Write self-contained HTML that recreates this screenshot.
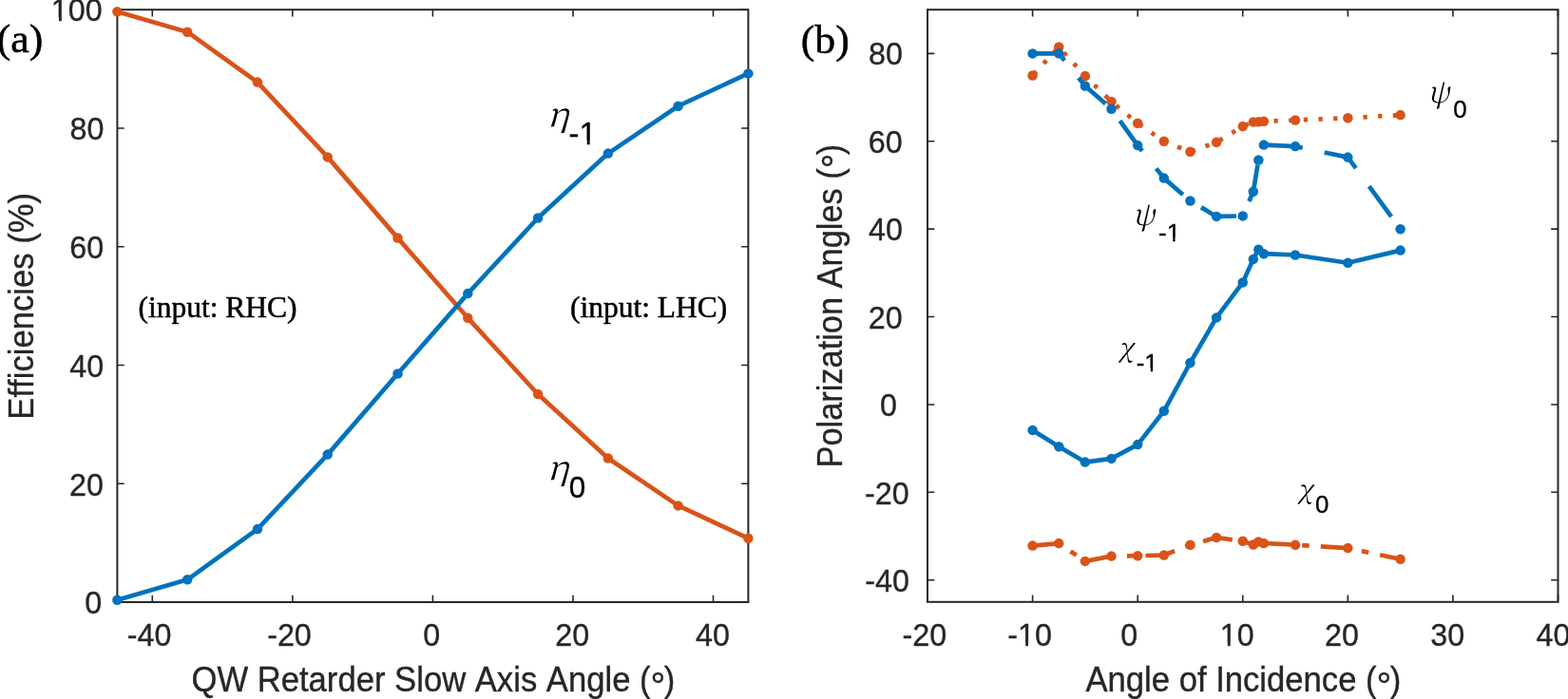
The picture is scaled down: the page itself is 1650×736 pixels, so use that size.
<!DOCTYPE html><html><head><meta charset="utf-8"><title>Figure</title><style>html,body{margin:0;padding:0;background:#fff;overflow:hidden}svg{display:block}text{font-kerning:none}</style></head><body>
<svg width="1650" height="736" viewBox="0 0 1650 736">
<rect width="1650" height="736" fill="#fff"/>
<g stroke="#262626" fill="none">
<rect x="123.4" y="10.2" width="664.00" height="623.80" stroke-width="2"/>
<path d="M160.29 634.0V626.70M160.29 10.2V17.50M307.84 634.0V626.70M307.84 10.2V17.50M455.40 634.0V626.70M455.40 10.2V17.50M602.96 634.0V626.70M602.96 10.2V17.50M750.51 634.0V626.70M750.51 10.2V17.50M123.4 634.00H130.70M787.4 634.00H780.10M123.4 509.24H130.70M787.4 509.24H780.10M123.4 384.48H130.70M787.4 384.48H780.10M123.4 259.72H130.70M787.4 259.72H780.10M123.4 134.96H130.70M787.4 134.96H780.10M123.4 10.20H130.70M787.4 10.20H780.10" stroke-width="1.6"/>
</g>
<clipPath id="f1c1" clipPathUnits="userSpaceOnUse"><path d="M0 0H1650V736H0ZM53.43 18.41H61.98V24.02H53.43ZM64.83 18.41H71.57V24.02H64.83Z" clip-rule="evenodd"/></clipPath>
<text x="53.86" y="22.02" font-family="'Liberation Sans', Arial, Helvetica, sans-serif" font-size="32.3" stroke="#262626" stroke-width="0.35" clip-path="url(#f1c1)" fill="#262626">100</text>
<text x="73.47" y="147.12" font-family="'Liberation Sans', Arial, Helvetica, sans-serif" font-size="32.3" stroke="#262626" stroke-width="0.35" fill="#262626">80</text>
<text x="73.25" y="271.82" font-family="'Liberation Sans', Arial, Helvetica, sans-serif" font-size="32.3" stroke="#262626" stroke-width="0.35" fill="#262626">60</text>
<text x="73.25" y="396.52" font-family="'Liberation Sans', Arial, Helvetica, sans-serif" font-size="32.3" stroke="#262626" stroke-width="0.35" fill="#262626">40</text>
<text x="73.00" y="521.52" font-family="'Liberation Sans', Arial, Helvetica, sans-serif" font-size="32.3" stroke="#262626" stroke-width="0.35" fill="#262626">20</text>
<text x="89.17" y="646.32" font-family="'Liberation Sans', Arial, Helvetica, sans-serif" font-size="32.3" stroke="#262626" stroke-width="0.35" fill="#262626">0</text>
<text x="133.77" y="680.02" font-family="'Liberation Sans', Arial, Helvetica, sans-serif" font-size="32.3" stroke="#262626" stroke-width="0.35" fill="#262626">-40</text>
<text x="281.17" y="680.02" font-family="'Liberation Sans', Arial, Helvetica, sans-serif" font-size="32.3" stroke="#262626" stroke-width="0.35" fill="#262626">-20</text>
<text x="445.22" y="680.02" font-family="'Liberation Sans', Arial, Helvetica, sans-serif" font-size="32.3" stroke="#262626" stroke-width="0.35" fill="#262626">0</text>
<text x="584.25" y="680.02" font-family="'Liberation Sans', Arial, Helvetica, sans-serif" font-size="32.3" stroke="#262626" stroke-width="0.35" fill="#262626">20</text>
<text x="732.10" y="680.02" font-family="'Liberation Sans', Arial, Helvetica, sans-serif" font-size="32.3" stroke="#262626" stroke-width="0.35" fill="#262626">40</text>
<path d="M123.40 12.20 L197.18 33.70 L270.96 86.60 L344.73 165.40 L418.51 250.60 L492.29 334.80 L566.07 415.00 L639.84 482.50 L713.62 532.40 L787.40 566.80" fill="none" stroke="#D95319" stroke-width="4.7" stroke-linejoin="round" stroke-linecap="butt"/>
<g fill="#D95319"><circle cx="123.40" cy="12.20" r="5.25"/><circle cx="197.18" cy="33.70" r="5.25"/><circle cx="270.96" cy="86.60" r="5.25"/><circle cx="344.73" cy="165.40" r="5.25"/><circle cx="418.51" cy="250.60" r="5.25"/><circle cx="492.29" cy="334.80" r="5.25"/><circle cx="566.07" cy="415.00" r="5.25"/><circle cx="639.84" cy="482.50" r="5.25"/><circle cx="713.62" cy="532.40" r="5.25"/><circle cx="787.40" cy="566.80" r="5.25"/></g>
<path d="M123.40 631.70 L197.18 610.30 L270.96 557.10 L344.73 478.60 L418.51 393.50 L492.29 309.10 L566.07 229.50 L639.84 161.60 L713.62 111.70 L787.40 77.40" fill="none" stroke="#0072BD" stroke-width="4.7" stroke-linejoin="round" stroke-linecap="butt"/>
<g fill="#0072BD"><circle cx="123.40" cy="631.70" r="5.25"/><circle cx="197.18" cy="610.30" r="5.25"/><circle cx="270.96" cy="557.10" r="5.25"/><circle cx="344.73" cy="478.60" r="5.25"/><circle cx="418.51" cy="393.50" r="5.25"/><circle cx="492.29" cy="309.10" r="5.25"/><circle cx="566.07" cy="229.50" r="5.25"/><circle cx="639.84" cy="161.60" r="5.25"/><circle cx="713.62" cy="111.70" r="5.25"/><circle cx="787.40" cy="77.40" r="5.25"/></g>
<g stroke="#262626" fill="none">
<rect x="976.0" y="10.2" width="663.50" height="623.60" stroke-width="2"/>
<path d="M976.00 633.8V626.50M976.00 10.2V17.50M1086.58 633.8V626.50M1086.58 10.2V17.50M1197.17 633.8V626.50M1197.17 10.2V17.50M1307.75 633.8V626.50M1307.75 10.2V17.50M1418.33 633.8V626.50M1418.33 10.2V17.50M1528.92 633.8V626.50M1528.92 10.2V17.50M1639.50 633.8V626.50M1639.50 10.2V17.50M976.0 610.70H983.30M1639.5 610.70H1632.20M976.0 518.32H983.30M1639.5 518.32H1632.20M976.0 425.93H983.30M1639.5 425.93H1632.20M976.0 333.55H983.30M1639.5 333.55H1632.20M976.0 241.16H983.30M1639.5 241.16H1632.20M976.0 148.78H983.30M1639.5 148.78H1632.20M976.0 56.39H983.30M1639.5 56.39H1632.20" stroke-width="1.6"/>
</g>
<text x="914.12" y="68.42" font-family="'Liberation Sans', Arial, Helvetica, sans-serif" font-size="32.3" stroke="#262626" stroke-width="0.35" fill="#262626">80</text>
<text x="913.85" y="161.12" font-family="'Liberation Sans', Arial, Helvetica, sans-serif" font-size="32.3" stroke="#262626" stroke-width="0.35" fill="#262626">60</text>
<text x="913.95" y="253.12" font-family="'Liberation Sans', Arial, Helvetica, sans-serif" font-size="32.3" stroke="#262626" stroke-width="0.35" fill="#262626">40</text>
<text x="913.75" y="345.62" font-family="'Liberation Sans', Arial, Helvetica, sans-serif" font-size="32.3" stroke="#262626" stroke-width="0.35" fill="#262626">20</text>
<text x="926.07" y="438.22" font-family="'Liberation Sans', Arial, Helvetica, sans-serif" font-size="32.3" stroke="#262626" stroke-width="0.35" fill="#262626">0</text>
<text x="910.02" y="530.52" font-family="'Liberation Sans', Arial, Helvetica, sans-serif" font-size="32.3" stroke="#262626" stroke-width="0.35" fill="#262626">-20</text>
<text x="910.22" y="622.92" font-family="'Liberation Sans', Arial, Helvetica, sans-serif" font-size="32.3" stroke="#262626" stroke-width="0.35" fill="#262626">-40</text>
<text x="949.52" y="680.12" font-family="'Liberation Sans', Arial, Helvetica, sans-serif" font-size="32.3" stroke="#262626" stroke-width="0.35" fill="#262626">-20</text>
<clipPath id="f1c2" clipPathUnits="userSpaceOnUse"><path d="M0 0H1650V736H0ZM1070.60 676.51H1079.15V682.12H1070.60ZM1082.00 676.51H1088.75V682.12H1082.00Z" clip-rule="evenodd"/></clipPath>
<text x="1060.27" y="680.12" font-family="'Liberation Sans', Arial, Helvetica, sans-serif" font-size="32.3" stroke="#262626" stroke-width="0.35" clip-path="url(#f1c2)" fill="#262626">-10</text>
<text x="1179.17" y="680.12" font-family="'Liberation Sans', Arial, Helvetica, sans-serif" font-size="32.3" stroke="#262626" stroke-width="0.35" fill="#262626">0</text>
<clipPath id="f1c3" clipPathUnits="userSpaceOnUse"><path d="M0 0H1650V736H0ZM1283.26 676.51H1291.81V682.12H1283.26ZM1294.66 676.51H1301.40V682.12H1294.66Z" clip-rule="evenodd"/></clipPath>
<text x="1283.69" y="680.12" font-family="'Liberation Sans', Arial, Helvetica, sans-serif" font-size="32.3" stroke="#262626" stroke-width="0.35" clip-path="url(#f1c3)" fill="#262626">10</text>
<text x="1394.05" y="680.12" font-family="'Liberation Sans', Arial, Helvetica, sans-serif" font-size="32.3" stroke="#262626" stroke-width="0.35" fill="#262626">20</text>
<text x="1505.20" y="680.12" font-family="'Liberation Sans', Arial, Helvetica, sans-serif" font-size="32.3" stroke="#262626" stroke-width="0.35" fill="#262626">30</text>
<text x="1616.55" y="680.12" font-family="'Liberation Sans', Arial, Helvetica, sans-serif" font-size="32.3" stroke="#262626" stroke-width="0.35" fill="#262626">40</text>
<path d="M1086.58 79.50 L1114.23 49.50 L1141.88 80.10 L1169.52 106.90 L1197.17 129.70 L1224.81 148.80 L1252.46 159.80 L1280.10 149.80 L1307.75 133.10 L1318.81 128.40 L1324.34 128.20 L1329.87 127.70 L1363.04 126.50 L1418.33 124.20 L1473.62 121.10" fill="none" stroke="#D95319" stroke-width="4.7" stroke-linejoin="round" stroke-linecap="butt" stroke-dasharray="4.3 11.38" stroke-dashoffset="14.14"/>
<g fill="#D95319"><circle cx="1086.58" cy="79.50" r="5.25"/><circle cx="1114.23" cy="49.50" r="5.25"/><circle cx="1141.88" cy="80.10" r="5.25"/><circle cx="1169.52" cy="106.90" r="5.25"/><circle cx="1197.17" cy="129.70" r="5.25"/><circle cx="1224.81" cy="148.80" r="5.25"/><circle cx="1252.46" cy="159.80" r="5.25"/><circle cx="1280.10" cy="149.80" r="5.25"/><circle cx="1307.75" cy="133.10" r="5.25"/><circle cx="1318.81" cy="128.40" r="5.25"/><circle cx="1324.34" cy="128.20" r="5.25"/><circle cx="1329.87" cy="127.70" r="5.25"/><circle cx="1363.04" cy="126.50" r="5.25"/><circle cx="1418.33" cy="124.20" r="5.25"/><circle cx="1473.62" cy="121.10" r="5.25"/></g>
<path d="M1086.58 56.40 L1114.23 56.30 L1141.88 90.50 L1169.52 114.70 L1197.17 153.10 L1224.81 187.60 L1252.46 211.50 L1280.10 227.90 L1307.75 227.40 L1318.81 201.80 L1324.34 168.50 L1329.87 152.60 L1363.04 154.10 L1418.33 165.60 L1473.62 241.20" fill="none" stroke="#0072BD" stroke-width="4.7" stroke-linejoin="round" stroke-linecap="butt" stroke-dasharray="39.6 23.5" stroke-dashoffset="2.5"/>
<g fill="#0072BD"><circle cx="1086.58" cy="56.40" r="5.25"/><circle cx="1114.23" cy="56.30" r="5.25"/><circle cx="1141.88" cy="90.50" r="5.25"/><circle cx="1169.52" cy="114.70" r="5.25"/><circle cx="1197.17" cy="153.10" r="5.25"/><circle cx="1224.81" cy="187.60" r="5.25"/><circle cx="1252.46" cy="211.50" r="5.25"/><circle cx="1280.10" cy="227.90" r="5.25"/><circle cx="1307.75" cy="227.40" r="5.25"/><circle cx="1318.81" cy="201.80" r="5.25"/><circle cx="1324.34" cy="168.50" r="5.25"/><circle cx="1329.87" cy="152.60" r="5.25"/><circle cx="1363.04" cy="154.10" r="5.25"/><circle cx="1418.33" cy="165.60" r="5.25"/><circle cx="1473.62" cy="241.20" r="5.25"/></g>
<path d="M1086.58 452.90 L1114.23 470.20 L1141.88 486.60 L1169.52 482.90 L1197.17 468.10 L1224.81 432.80 L1252.46 382.00 L1280.10 334.40 L1307.75 297.40 L1318.81 272.90 L1324.34 262.80 L1329.87 267.20 L1363.04 268.50 L1418.33 276.70 L1473.62 263.60" fill="none" stroke="#0072BD" stroke-width="4.7" stroke-linejoin="round" stroke-linecap="butt"/>
<g fill="#0072BD"><circle cx="1086.58" cy="452.90" r="5.25"/><circle cx="1114.23" cy="470.20" r="5.25"/><circle cx="1141.88" cy="486.60" r="5.25"/><circle cx="1169.52" cy="482.90" r="5.25"/><circle cx="1197.17" cy="468.10" r="5.25"/><circle cx="1224.81" cy="432.80" r="5.25"/><circle cx="1252.46" cy="382.00" r="5.25"/><circle cx="1280.10" cy="334.40" r="5.25"/><circle cx="1307.75" cy="297.40" r="5.25"/><circle cx="1318.81" cy="272.90" r="5.25"/><circle cx="1324.34" cy="262.80" r="5.25"/><circle cx="1329.87" cy="267.20" r="5.25"/><circle cx="1363.04" cy="268.50" r="5.25"/><circle cx="1418.33" cy="276.70" r="5.25"/><circle cx="1473.62" cy="263.60" r="5.25"/></g>
<path d="M1086.58 574.60 L1114.23 572.10 L1141.88 590.90 L1169.52 585.60 L1197.17 585.20 L1224.81 584.50 L1252.46 573.70 L1280.10 566.00 L1307.75 569.80 L1318.81 573.50 L1324.34 570.50 L1329.87 572.00 L1363.04 573.70 L1418.33 577.10 L1473.62 588.70" fill="none" stroke="#D95319" stroke-width="4.7" stroke-linejoin="round" stroke-linecap="butt" stroke-dasharray="31.5 12 7.5 12.1" stroke-dashoffset="0.9"/>
<g fill="#D95319"><circle cx="1086.58" cy="574.60" r="5.25"/><circle cx="1114.23" cy="572.10" r="5.25"/><circle cx="1141.88" cy="590.90" r="5.25"/><circle cx="1169.52" cy="585.60" r="5.25"/><circle cx="1197.17" cy="585.20" r="5.25"/><circle cx="1224.81" cy="584.50" r="5.25"/><circle cx="1252.46" cy="573.70" r="5.25"/><circle cx="1280.10" cy="566.00" r="5.25"/><circle cx="1307.75" cy="569.80" r="5.25"/><circle cx="1318.81" cy="573.50" r="5.25"/><circle cx="1324.34" cy="570.50" r="5.25"/><circle cx="1329.87" cy="572.00" r="5.25"/><circle cx="1363.04" cy="573.70" r="5.25"/><circle cx="1418.33" cy="577.10" r="5.25"/><circle cx="1473.62" cy="588.70" r="5.25"/></g>
<text transform="translate(201.46 728.40) scale(1.0 1.045)" font-family="'Liberation Sans', Arial, Helvetica, sans-serif" font-size="34.65" fill="#262626" stroke="#262626" stroke-width="0.35">QW Retarder Slow Axis Angle (<tspan font-size="39.5" dy="7.3">°</tspan><tspan dx="-1.5" dy="-7.3">)</tspan></text>
<text transform="translate(1142.43 728.40) scale(1.0 1.045)" font-family="'Liberation Sans', Arial, Helvetica, sans-serif" font-size="34.65" fill="#262626" stroke="#262626" stroke-width="0.35">Angle of Incidence (<tspan font-size="39.5" dy="7.3">°</tspan><tspan dx="-1.5" dy="-7.3">)</tspan></text>
<text transform="translate(34.90 441.64) rotate(-90) scale(1.0 1.045)" font-family="'Liberation Sans', Arial, Helvetica, sans-serif" font-size="34.65" fill="#262626" stroke="#262626" stroke-width="0.35">Efficiencies (%)</text>
<text transform="translate(885.60 492.52) rotate(-90) scale(0.992 1.045)" font-family="'Liberation Sans', Arial, Helvetica, sans-serif" font-size="34.65" fill="#262626" stroke="#262626" stroke-width="0.35">Polarization Angles (<tspan font-size="39.5" dy="7.3">°</tspan><tspan dx="-1.5" dy="-7.3">)</tspan></text>
<text transform="translate(-3.23 54.86) scale(1.061 1)" font-family="'Liberation Serif', 'Times New Roman', serif" font-size="41.3" fill="#000" stroke="#000" stroke-width="0.5">(a)</text>
<text transform="translate(842.77 55.66) scale(1.062 1)" font-family="'Liberation Serif', 'Times New Roman', serif" font-size="41.3" fill="#000" stroke="#000" stroke-width="0.5">(b)</text>
<text x="145.42" y="333.80" font-family="'Liberation Serif', 'Times New Roman', serif" font-size="31.5" stroke="#000" stroke-width="0.5" fill="#000">(input: RHC)</text>
<text x="599.92" y="334.30" font-family="'Liberation Serif', 'Times New Roman', serif" font-size="31.5" stroke="#000" stroke-width="0.5" fill="#000">(input: LHC)</text>
<text transform="translate(575.80 132.92) scale(1.087 1)" font-family="'Noto Serif CJK SC', serif" font-style="italic" font-size="35.14" fill="#000">η</text>
<clipPath id="f1c4" clipPathUnits="userSpaceOnUse"><path d="M0 0H1650V736H0ZM609.08 147.85H617.74V153.50H609.08ZM620.64 147.85H627.48V153.50H620.64Z" clip-rule="evenodd"/></clipPath>
<text x="598.54" y="151.50" font-family="'Liberation Sans', Arial, Helvetica, sans-serif" font-size="32.85" stroke="#000" stroke-width="0.35" clip-path="url(#f1c4)" fill="#000">-1</text>
<text transform="translate(575.82 505.39) scale(1.077 1)" font-family="'Noto Serif CJK SC', serif" font-style="italic" font-size="35.27" fill="#000">η</text>
<text x="598.77" y="524.09" font-family="'Liberation Sans', Arial, Helvetica, sans-serif" font-size="31.36" stroke="#000" stroke-width="0.35" fill="#000">0</text>
<text transform="translate(1502.62 107.97) scale(0.904 1)" font-family="'Noto Serif CJK SC', serif" font-style="italic" font-size="31.57" fill="#000">ψ</text>
<text x="1529.29" y="124.25" font-family="'Liberation Sans', Arial, Helvetica, sans-serif" font-size="25.85" stroke="#000" stroke-width="0.35" fill="#000">0</text>
<text transform="translate(1192.05 237.47) scale(0.918 1)" font-family="'Noto Serif CJK SC', serif" font-style="italic" font-size="31.57" fill="#000">ψ</text>
<clipPath id="f1c5" clipPathUnits="userSpaceOnUse"><path d="M0 0H1650V736H0ZM1226.98 250.56H1234.25V255.70H1226.98ZM1236.55 250.56H1242.18V255.70H1236.55Z" clip-rule="evenodd"/></clipPath>
<text x="1219.04" y="253.70" font-family="'Liberation Sans', Arial, Helvetica, sans-serif" font-size="26.02" stroke="#000" stroke-width="0.35" clip-path="url(#f1c5)" fill="#000">-1</text>
<text transform="translate(1177.10 375.94) scale(0.996 1)" font-family="'Noto Serif CJK SC', serif" font-style="italic" font-size="28.38" fill="#000">χ</text>
<clipPath id="f1c6" clipPathUnits="userSpaceOnUse"><path d="M0 0H1650V736H0ZM1203.58 387.68H1210.80V392.80H1203.58ZM1213.07 387.68H1218.64V392.80H1213.07Z" clip-rule="evenodd"/></clipPath>
<text x="1195.76" y="390.80" font-family="'Liberation Sans', Arial, Helvetica, sans-serif" font-size="25.73" stroke="#000" stroke-width="0.35" clip-path="url(#f1c6)" fill="#000">-1</text>
<text transform="translate(1365.50 524.83) scale(1.016 1)" font-family="'Noto Serif CJK SC', serif" font-style="italic" font-size="27.97" fill="#000">χ</text>
<text x="1383.99" y="540.25" font-family="'Liberation Sans', Arial, Helvetica, sans-serif" font-size="25.85" stroke="#000" stroke-width="0.35" fill="#000">0</text>
</svg></body></html>
